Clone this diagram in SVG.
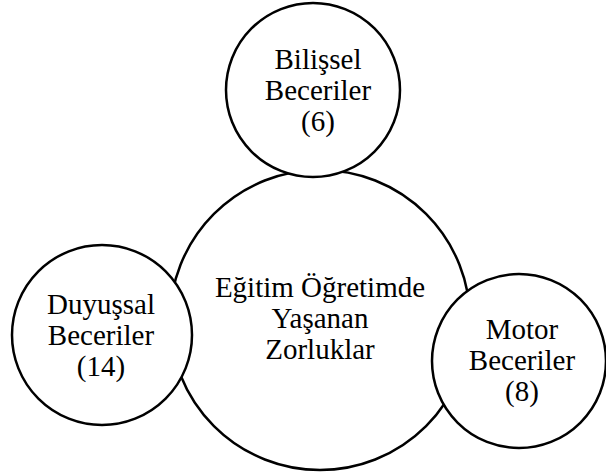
<svg xmlns="http://www.w3.org/2000/svg" width="606" height="474" viewBox="0 0 606 474">
<style>
.c{fill:#fff;stroke:#000;stroke-width:2.5}
.t{font-family:"Liberation Serif","Times New Roman",serif;font-size:29px;fill:#000;text-anchor:middle}
</style>
<rect width="606" height="474" fill="#fff"/>
<g id="center">
<circle class="c" cx="320" cy="320" r="150"/>
<text class="t" x="320" y="297">Eğitim Öğretimde</text>
<text class="t" x="320" y="328">Yaşanan</text>
<text class="t" x="320" y="359">Zorluklar</text>
</g>
<g id="bilissel">
<circle class="c" cx="313" cy="90" r="87"/>
<text class="t" x="318" y="69">Bilişsel</text>
<text class="t" x="318" y="100">Beceriler</text>
<text class="t" x="318" y="131">(6)</text>
</g>
<g id="duyussal">
<circle class="c" cx="102" cy="335" r="90"/>
<text class="t" x="101" y="314">Duyuşsal</text>
<text class="t" x="101" y="345">Beceriler</text>
<text class="t" x="101" y="376">(14)</text>
</g>
<g id="motor">
<circle class="c" cx="519" cy="361" r="87"/>
<text class="t" x="522" y="339">Motor</text>
<text class="t" x="522" y="370">Beceriler</text>
<text class="t" x="522" y="401">(8)</text>
</g>
<g id="connectors"></g>
</svg>
